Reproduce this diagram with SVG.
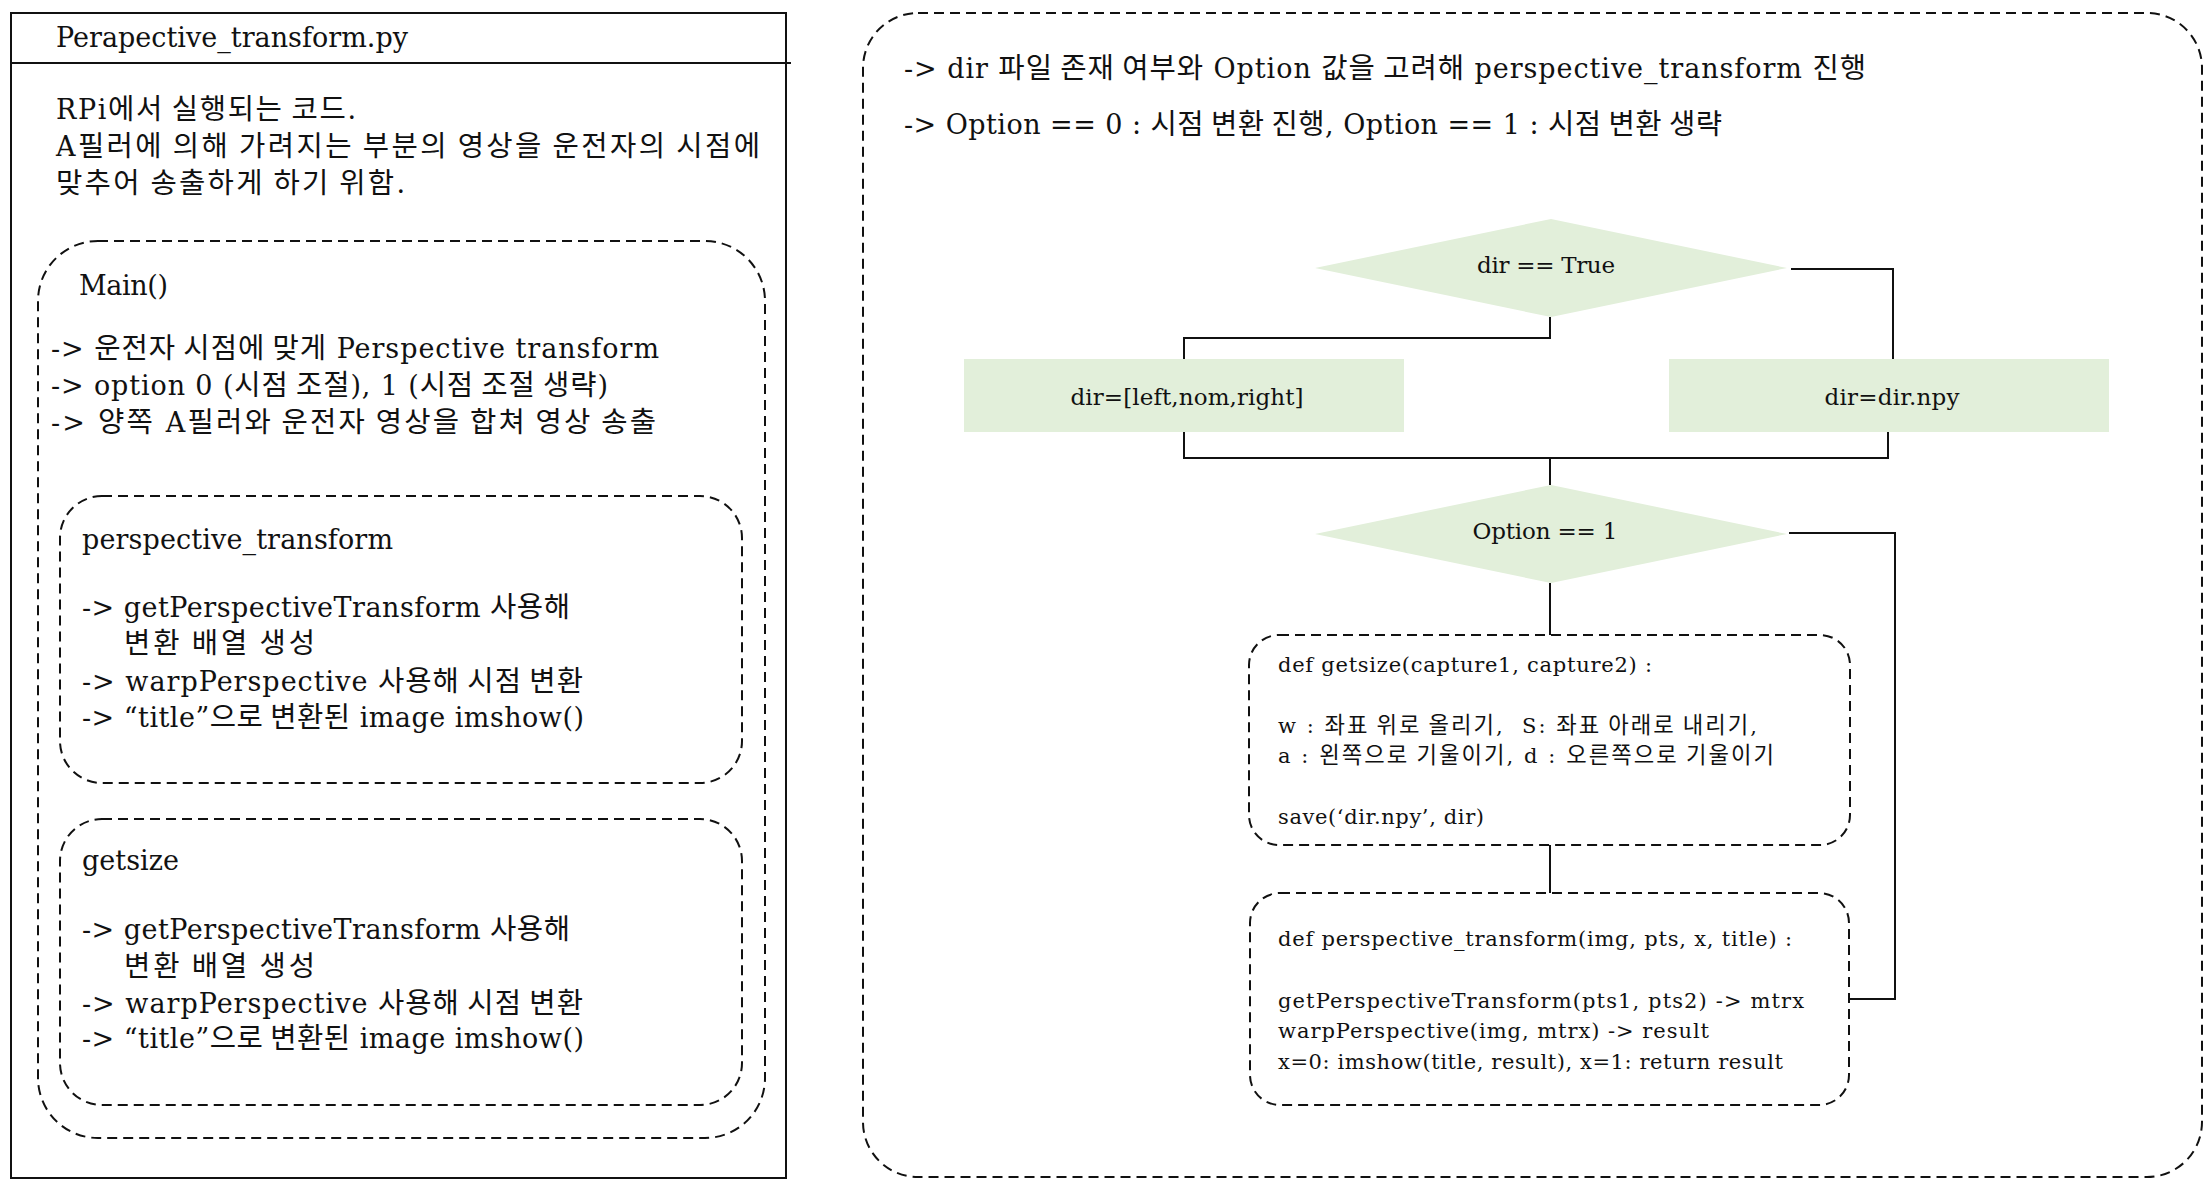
<svg xmlns="http://www.w3.org/2000/svg" width="2208" height="1187" viewBox="0 0 2208 1187">
<style>
.t{font-family:'DejaVu Serif','Noto Sans CJK KR',serif;fill:#111;}
.l{font-size:27px;}
.d{font-size:23px;}
.c{font-size:21px;}
.k{font-family:'Noto Sans CJK KR','DejaVu Serif',sans-serif;font-size:106%;}
.mid{text-anchor:middle;}
.dash{fill:none;stroke:#111;stroke-width:2;stroke-dasharray:10 6;}
.solid{fill:none;stroke:#111;stroke-width:2;}
.green{fill:#E2EFDA;stroke:none;}
.conn{fill:none;stroke:#111;stroke-width:2;}
</style>
<rect width="2208" height="1187" fill="#fff"/>

<g id="file-panel">
<rect class="solid" x="11" y="13" width="775" height="1165"/>
<line class="solid" x1="11" y1="63" x2="791" y2="63"/>
<text class="t l" x="56" y="47" textLength="352">Perapective_transform.py</text>
<text class="t l" x="56" y="119" textLength="300">RPi<tspan class="k">에서 실행되는 코드</tspan>.</text>
<text class="t l" x="56" y="156" textLength="704">A<tspan class="k">필러에 의해 가려지는 부분의 영상을 운전자의 시점에</tspan></text>
<text class="t l" x="56" y="193" textLength="349"><tspan class="k">맞추어 송출하게 하기 위함</tspan>.</text>
</g>

<g id="main-box">
<rect class="dash" x="38" y="241" width="727" height="897" rx="60" ry="60"/>
<text class="t l" x="79" y="295" textLength="89">Main()</text>
<text class="t l" x="51" y="358" textLength="608">-&gt; <tspan class="k">운전자 시점에 맞게</tspan> Perspective transform</text>
<text class="t l" x="51" y="395" textLength="557">-&gt; option 0 (<tspan class="k">시점 조절</tspan>), 1 (<tspan class="k">시점 조절 생략</tspan>)</text>
<text class="t l" x="51" y="432" textLength="605">-&gt; <tspan class="k">양쪽</tspan> A<tspan class="k">필러와 운전자 영상을 합쳐 영상 송출</tspan></text>
</g>

<g id="perspective-box">
<rect class="dash" x="60" y="496" width="682" height="287" rx="42" ry="42"/>
<text class="t l" x="82" y="549" textLength="311">perspective_transform</text>
<text class="t l" x="82" y="617" textLength="488">-&gt; getPerspectiveTransform <tspan class="k">사용해</tspan></text>
<text class="t l" x="124" y="653" textLength="191"><tspan class="k">변환 배열 생성</tspan></text>
<text class="t l" x="82" y="691" textLength="501">-&gt; warpPerspective <tspan class="k">사용해 시점 변환</tspan></text>
<text class="t l" x="82" y="727" textLength="502">-&gt; “title”<tspan class="k">으로 변환된</tspan> image imshow()</text>
</g>

<g id="getsize-box">
<rect class="dash" x="60" y="819" width="682" height="286" rx="42" ry="42"/>
<text class="t l" x="82" y="870" textLength="97">getsize</text>
<text class="t l" x="82" y="939" textLength="488">-&gt; getPerspectiveTransform <tspan class="k">사용해</tspan></text>
<text class="t l" x="124" y="976" textLength="191"><tspan class="k">변환 배열 생성</tspan></text>
<text class="t l" x="82" y="1013" textLength="501">-&gt; warpPerspective <tspan class="k">사용해 시점 변환</tspan></text>
<text class="t l" x="82" y="1048" textLength="502">-&gt; “title”<tspan class="k">으로 변환된</tspan> image imshow()</text>
</g>

<g id="flow-panel">
<rect class="dash" x="863" y="13" width="1339" height="1164" rx="55" ry="55"/>
<text class="t l" x="904" y="78" textLength="962">-&gt; dir <tspan class="k">파일 존재 여부와</tspan> Option <tspan class="k">값을 고려해</tspan> perspective_transform <tspan class="k">진행</tspan></text>
<text class="t l" x="904" y="134" textLength="818">-&gt; Option == 0 : <tspan class="k">시점 변환 진행</tspan>, Option == 1 : <tspan class="k">시점 변환 생략</tspan></text>
</g>

<g id="connectors">
<polyline class="conn" points="1791,269 1893,269 1893,359"/>
<polyline class="conn" points="1550,317 1550,338 1184,338 1184,359"/>
<polyline class="conn" points="1184,432 1184,458 1888,458 1888,432"/>
<line class="conn" x1="1550" y1="458" x2="1550" y2="485"/>
<polyline class="conn" points="1789,533 1895,533 1895,999 1850,999"/>
<line class="conn" x1="1550" y1="583" x2="1550" y2="635"/>
<line class="conn" x1="1550" y1="845" x2="1550" y2="893"/>
</g>

<g id="decision-dir">
<polygon class="green" points="1551,219 1787,268 1551,317 1315,268"/>
<text class="t d mid" x="1546" y="273" textLength="138">dir == True</text>
</g>

<g id="box-dir-list">
<rect class="green" x="964" y="359" width="440" height="73"/>
<text class="t d mid" x="1187" y="405" textLength="233">dir=[left,nom,right]</text>
</g>

<g id="box-dir-npy">
<rect class="green" x="1669" y="359" width="440" height="73"/>
<text class="t d mid" x="1892" y="405" textLength="135">dir=dir.npy</text>
</g>

<g id="decision-option">
<polygon class="green" points="1551,485 1787,534 1551,583 1315,534"/>
<text class="t d mid" x="1545" y="539" textLength="145">Option == 1</text>
</g>

<g id="func-getsize">
<rect class="dash" x="1249" y="635" width="601" height="210" rx="30" ry="30"/>
<text class="t c" x="1278" y="672" textLength="374">def getsize(capture1, capture2) :</text>
<text class="t c" x="1278" y="733" textLength="479">w : <tspan class="k">좌표 위로 올리기</tspan>,&#160; S: <tspan class="k">좌표 아래로 내리기</tspan>,</text>
<text class="t c" x="1278" y="763" textLength="496">a : <tspan class="k">왼쪽으로 기울이기</tspan>, d : <tspan class="k">오른쪽으로 기울이기</tspan></text>
<text class="t c" x="1278" y="824" textLength="206">save(‘dir.npy’, dir)</text>
</g>

<g id="func-perspective">
<rect class="dash" x="1250" y="893" width="599" height="212" rx="30" ry="30"/>
<text class="t c" x="1278" y="946" textLength="514">def perspective_transform(img, pts, x, title) :</text>
<text class="t c" x="1278" y="1008" textLength="526">getPerspectiveTransform(pts1, pts2) -&gt; mtrx</text>
<text class="t c" x="1278" y="1038" textLength="431">warpPerspective(img, mtrx) -&gt; result</text>
<text class="t c" x="1278" y="1069" textLength="505">x=0: imshow(title, result), x=1: return result</text>
</g>
</svg>
